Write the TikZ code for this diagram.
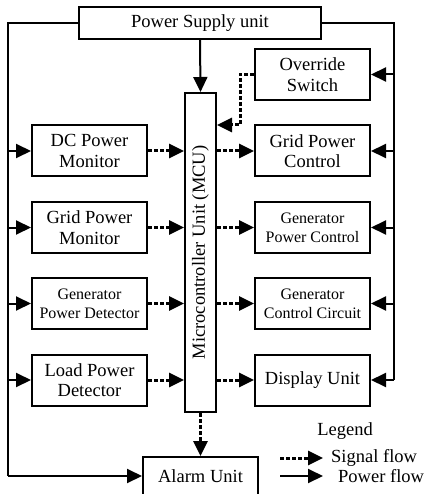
\documentclass[tikz,border=0pt]{standalone}
\usepackage{fontspec}
\setmainfont{Liberation Serif}
\usetikzlibrary{arrows.meta}
\begin{document}
\begin{tikzpicture}[x=1pt,y=-1pt,
  box/.style={draw,line width=2pt,fill=white,inner sep=0pt,align=center,font=\fontsize{18.5}{20.5}\selectfont},
  sbox/.style={box,font=\fontsize{16}{19}\selectfont},
  side/.style={box,minimum width=115pt,minimum height=51pt},
  sside/.style={sbox,minimum width=115pt,minimum height=51pt},
  pow/.style={line width=2pt,-{Triangle[length=15pt,width=14pt]}},
  bus/.style={line width=2pt},
  sig/.style={line width=3pt,dash pattern=on 4pt off 2pt,-{Triangle[length=15pt,width=14pt]}},
  lbl/.style={font=\fontsize{18.5}{20.5}\selectfont,inner sep=0pt}]
\useasboundingbox (0,0) rectangle (423,494);
\fill[white] (0,0) rectangle (423,494);
% boxes
\node[box,minimum width=242pt,minimum height=32pt] (ps) at (200,23) {Power Supply unit};
\node[side] (ovr) at (312.5,74.5) {Override\\Switch};
\node[box,minimum width=31pt,minimum height=319pt] (mcu) at (200.5,252.5) {};
\node[lbl,rotate=90] (mcut) at (mcu.center) {Microcontroller Unit (MCU)};
\node[side] (dcm) at (89.5,151) {DC Power\\Monitor};
\node[side] (gpm) at (89.5,227.5) {Grid Power\\Monitor};
\node[sside] (gpd) at (89.5,303.5) {Generator\\Power Detector};
\node[side] (lpd) at (89.5,380) {Load Power\\Detector};
\node[side] (gpc) at (312.5,151) {Grid Power\\Control};
\node[sside] (gnpc) at (312.5,227.5) {Generator\\Power Control};
\node[sside] (gcc) at (312.5,303.5) {Generator\\Control Circuit};
\node[side] (disp) at (312.5,380) {Display Unit};
\node[box,minimum width=115pt,minimum height=38pt] (alarm) at (200.5,476) {Alarm Unit};
% power buses
\coordinate (lb) at (8,476);
\coordinate (rb) at (394,380);
\draw[bus] (ps.west) -| (lb);
\draw[pow] (lb) -- (alarm.west);
\draw[bus] (ps.east) -| (rb);
\draw[pow] (rb) -- (disp.east);
\coordinate (l1) at (8,151);
\coordinate (l2) at (8,227.5);
\coordinate (l3) at (8,303.5);
\coordinate (l4) at (8,380);
\draw[pow] (l1) -- (dcm.west);
\draw[pow] (l2) -- (gpm.west);
\draw[pow] (l3) -- (gpd.west);
\draw[pow] (l4) -- (lpd.west);
\coordinate (r0) at (394,74.5);
\coordinate (r1) at (394,151);
\coordinate (r2) at (394,227.5);
\coordinate (r3) at (394,303.5);
\draw[pow] (r0) -- (ovr.east);
\draw[pow] (r1) -- (gpc.east);
\draw[pow] (r2) -- (gnpc.east);
\draw[pow] (r3) -- (gcc.east);
\draw[pow] (ps.south) -- (mcu.north);
% signals
\draw[sig] (dcm.east) -- (dcm.east -| mcu.west);
\draw[sig] (gpm.east) -- (gpm.east -| mcu.west);
\draw[sig] (gpd.east) -- (gpd.east -| mcu.west);
\draw[sig] (lpd.east) -- (lpd.east -| mcu.west);
\draw[sig] (gpc.west -| mcu.east) -- (gpc.west);
\draw[sig] (gnpc.west -| mcu.east) -- (gnpc.west);
\draw[sig] (gcc.west -| mcu.east) -- (gcc.west);
\draw[sig] (disp.west -| mcu.east) -- (disp.west);
\coordinate (ok) at (240,125);
\draw[sig] (ovr.west) -| (ok) -- (ok -| mcu.east);
\draw[sig] (mcu.south) -- (alarm.north);
% legend
\node[lbl] (leg) at (345,431) {Legend};
\coordinate (s1) at (280,458);
\coordinate (s2) at (323,458);
\coordinate (p1) at (280,476);
\coordinate (p2) at (323,476);
\draw[sig] (s1) -- (s2);
\draw[pow] (p1) -- (p2);
\node[lbl,anchor=west] (sl) at (331,458) {Signal flow};
\node[lbl,anchor=west] (pl) at (338,476) {Power flow};
\end{tikzpicture}
\end{document}
